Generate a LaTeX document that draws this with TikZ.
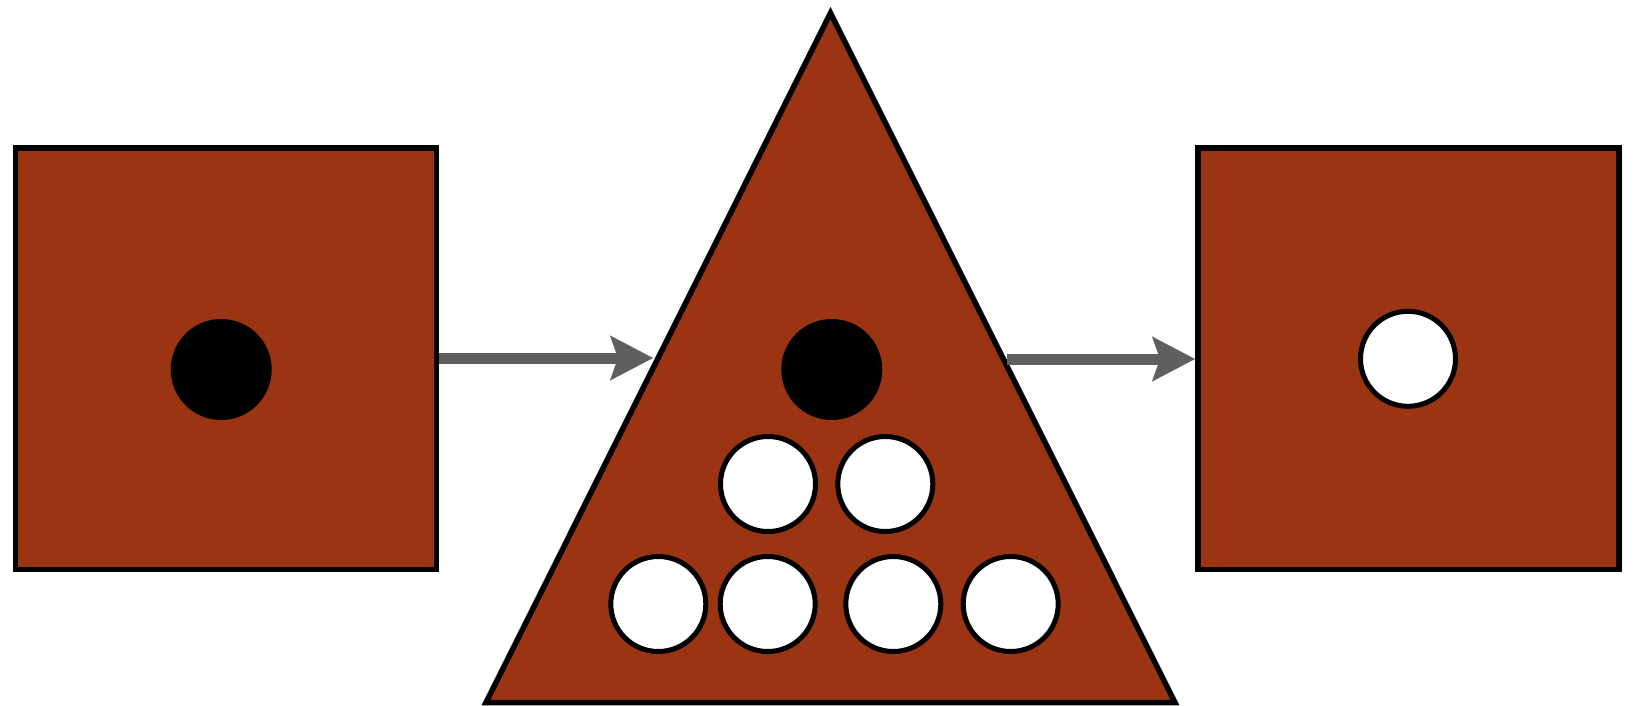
\documentclass[tikz,border=0pt]{standalone}
\usetikzlibrary{arrows.meta}
\definecolor{brick}{RGB}{154,52,18}
\definecolor{arrgray}{RGB}{95,95,95}
\tikzset{
  panel/.style={draw=black, line width=5.5pt, fill=brick, rectangle, inner sep=0pt, outer sep=auto,
                minimum width=421pt, minimum height=421.5pt},
  hole/.style={circle, draw=black, line width=5pt, fill=white, inner sep=0pt, outer sep=0pt, minimum size=95pt},
  ball/.style={circle, fill=black, inner sep=0pt, outer sep=0pt, minimum size=101pt},
  flow/.style={draw=arrgray, line width=11pt,
               -{Stealth[length=43pt, width=45pt, inset=8pt, line width=0.5pt]}},
}
\begin{document}
\begin{tikzpicture}[x=1pt, y=-1pt]
\useasboundingbox (0,0) rectangle (1634,705);
% left square
\node[panel] (Lsq) at (226,358.75) {};
\node[ball] (Lball) at (221.2,369.5) {};
% triangle
\coordinate (Tapex) at (830.5,13);
\coordinate (Tleft) at (486,702.5);
\coordinate (Tright) at (1175,702.5);
\draw[line width=5.5pt, fill=brick, line join=miter] (Tapex) -- (Tleft) -- (Tright) -- cycle;
\node[ball] (Tball) at (831.8,369.5) {};
\node[hole] (h1) at (768,484) {};
\node[hole] (h2) at (885.3,484) {};
\node[hole] (h3) at (658.3,604) {};
\node[hole] (h4) at (767.7,604) {};
\node[hole] (h5) at (893.3,604) {};
\node[hole] (h6) at (1010.7,604) {};
% right square
\node[panel] (Rsq) at (1408.25,358.75) {};
\node[hole] (Rhole) at (1408,358.8) {};
% arrows
\coordinate (a1end) at (653,358);
\coordinate (a2start) at (1006.7,359);
\draw[flow] (Lsq.east |- a1end) -- (a1end);
\draw[flow] (a2start) -- (Rsq.west |- a2start);
\end{tikzpicture}
\end{document}
